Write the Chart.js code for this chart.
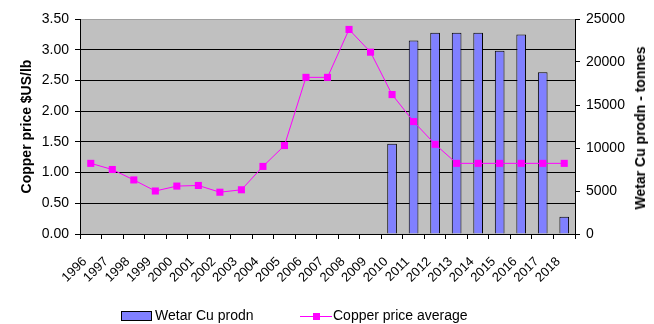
<!DOCTYPE html>
<html>
<head>
<meta charset="utf-8">
<script src="https://cdn.jsdelivr.net/npm/chart.js@4/dist/chart.umd.min.js"></script>
<style>
  body { margin: 0; background: #fff; font-family: Arial, "Liberation Sans", sans-serif; }
  #wrap { position: relative; width: 654px; height: 324px; }
  .leg { position: absolute; top: 307px; font-size: 14px; color: #000; white-space: nowrap; }
  .box { position: absolute; width: 29px; height: 8px; background: #8080FF; border: 1px solid #000; }
  .ln { position: absolute; width: 32px; height: 1px; background: #FF00FF; }
  .mk { position: absolute; width: 7px; height: 7px; background: #FF00FF; }
  #rtitle { position: absolute; left: 640px; top: 128px; font-size: 14px; font-weight: bold; color: #000;
            white-space: nowrap; transform: translate(-50%, -50%) rotate(-90deg); }
</style>
</head>
<body>
<div id="wrap">
  <canvas id="chart" width="654" height="324"></canvas>
  <div id="rtitle">Wetar Cu prodn - tonnes</div>
  <div class="box" style="left:121px; top:311px;"></div>
  <div class="leg" style="left:155px;">Wetar Cu prodn</div>
  <div class="ln" style="left:300px; top:316px;"></div>
  <div class="mk" style="left:313px; top:313px;"></div>
  <div class="leg" style="left:333px;">Copper price average</div>
</div>
<script>
// copper price vs Wetar production

const years = ['1996', '1997', '1998', '1999', '2000', '2001', '2002', '2003', '2004', '2005', '2006', '2007',
    '2008', '2009', '2010', '2011', '2012', '2013', '2014', '2015', '2016', '2017', '2018'];

// Wetar Cu prodn, tonnes (right axis)
const wetarProdn = [null, null, null, null, null, null, null, null, null, null, null, null,
    null, null, 10500, 22500, 23400, 23400, 23400, 21300, 23200, 18800, 2000];

// Copper price average, $US/lb (left axis)
const copperPrice = [1.15, 1.05, 0.88, 0.70, 0.78, 0.79, 0.68, 0.72, 1.10, 1.44, 2.55, 2.55,
    3.33, 2.96, 2.27, 1.83, 1.46, 1.15, 1.15, 1.15, 1.15, 1.15, 1.15];

const priceTicks = [0, 0.5, 1, 1.5, 2, 2.5, 3, 3.5];
const prodnTicks = [0, 5000, 10000, 15000, 20000, 25000];

document.addEventListener('DOMContentLoaded', () => {
    const ctx = document.getElementById('chart').getContext('2d');

    // grey plot area like the Excel original
    const plotBg = {
        id: 'plotBg',
        beforeDraw(chart) {
            const a = chart.chartArea;
            const c = chart.ctx;
            c.save();
            c.fillStyle = '#C0C0C0';
            c.fillRect(a.left, a.top, a.right - a.left, a.bottom - a.top);
            c.restore();
        }
    };

    new Chart(ctx, {
        type: 'bar',
        data: {
            labels: years,
            datasets: [
                {
                    type: 'line',
                    label: 'Copper price average',
                    data: copperPrice,
                    yAxisID: 'y',
                    borderColor: '#FF00FF',
                    backgroundColor: '#FF00FF',
                    borderWidth: 1,
                    pointStyle: 'rect',
                    pointRadius: 5,
                    pointBorderWidth: 0,
                    tension: 0,
                    order: 0
                },
                {
                    label: 'Wetar Cu prodn',
                    data: wetarProdn,
                    yAxisID: 'y1',
                    backgroundColor: '#8080FF',
                    borderColor: '#000',
                    borderWidth: 1,
                    barPercentage: 0.45,
                    categoryPercentage: 1,
                    order: 1
                }
            ]
        },
        options: {
            responsive: false,
            animation: false,
            layout: { padding: { top: 19 } },
            plugins: {
                legend: { display: false },
                tooltip: { enabled: false }
            },
            scales: {
                x: {
                    grid: { offset: true, drawOnChartArea: false, tickLength: 5, color: '#000' },
                    border: { color: '#000' },
                    ticks: {
                        maxRotation: 45,
                        minRotation: 45,
                        autoSkip: false,
                        padding: 15,
                        labelOffset: -6,
                        color: '#000',
                        font: { family: 'Arial, "Liberation Sans"', size: 13 }
                    },
                    afterFit: (s) => { s.height = 90; }
                },
                y: {
                    position: 'left',
                    min: 0,
                    max: 3.5,
                    afterBuildTicks: (s) => { s.ticks = priceTicks.map(v => ({ value: v })); },
                    grid: {
                        color: (c) => c.tick && c.tick.value === 3.5 ? '#A0A0A0' : '#000',
                        tickColor: '#000',
                        tickLength: 5
                    },
                    border: { color: '#000' },
                    ticks: {
                        padding: 6,
                        color: '#000',
                        font: { family: 'Arial, "Liberation Sans"', size: 14 },
                        callback: (v) => v.toFixed(2)
                    },
                    title: {
                        display: true,
                        text: 'Copper price $US/lb',
                        color: '#000',
                        padding: { top: 19, bottom: 0 },
                        font: { family: 'Arial, "Liberation Sans"', size: 14, weight: 'bold' }
                    },
                    afterFit: (s) => { s.width = 80; }
                },
                y1: {
                    position: 'right',
                    min: 0,
                    max: 25000,
                    afterBuildTicks: (s) => { s.ticks = prodnTicks.map(v => ({ value: v })); },
                    grid: { drawOnChartArea: false, color: '#000', tickLength: 5 },
                    border: { color: '#000' },
                    ticks: {
                        padding: 6,
                        color: '#000',
                        font: { family: 'Arial, "Liberation Sans"', size: 14 },
                        callback: (v) => String(v)
                    },
                    afterFit: (s) => { s.width = 79; }
                }
            }
        },
        plugins: [plotBg]
    });
});
</script>
</body>
</html>
